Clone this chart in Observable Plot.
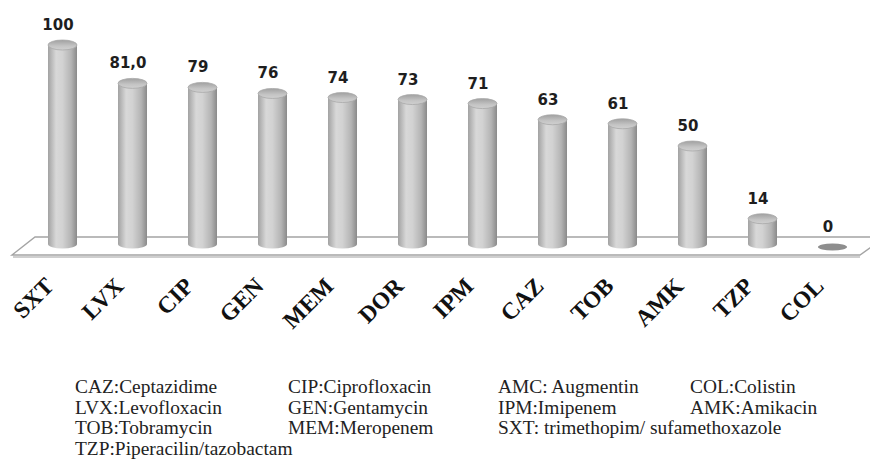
<!DOCTYPE html>
<html><head><meta charset="utf-8">
<script src="https://cdn.jsdelivr.net/npm/d3@7"></script>
<script src="https://cdn.jsdelivr.net/npm/@observablehq/plot@0.6"></script>
<style>
body{margin:0;background:#fff;width:870px;height:463px;overflow:hidden;position:relative;}
#legend{position:absolute;left:0;top:0;width:870px;font-family:'Liberation Serif','DejaVu Serif',serif;font-size:19.4px;color:#222;line-height:20.6px;}
#legend span{position:absolute;white-space:nowrap;font-family:'Liberation Serif','DejaVu Serif',serif;}
</style></head><body>
<div id="chart"></div>
<div id="legend"></div>
<script>
const categories = ["SXT","LVX","CIP","GEN","MEM","DOR","IPM","CAZ","TOB","AMK","TZP","COL"];
const values = [100,81,79,76,74,73,71,63,61,50,14,0];
const valueLabels = ["100","81,0","79","76","74","73","71","63","61","50","14","0"];
const legendRow1 = ["CAZ:Ceptazidime","CIP:Ciprofloxacin","AMC: Augmentin","COL:Colistin"];
const legendRow2 = ["LVX:Levofloxacin","GEN:Gentamycin","IPM:Imipenem","AMK:Amikacin"];
const legendRow3 = ["TOB:Tobramycin","MEM:Meropenem","SXT: trimethopim/ sufamethoxazole"];
const legendRow4 = ["TZP:Piperacilin/tazobactam"];

const data = categories.map((c, i) => ({c, v: values[i], label: valueLabels[i]}));
const RX = 14.45;

const floor = (index, scales, vals, dims) => {
  const y0 = scales.y(0);
  const g = d3.create("svg:g");
  g.append("path")
    .attr("d", `M12,${y0+8}L35,${y0-10}L885,${y0-10}L860,${y0+8}Z`)
    .attr("fill", "#fff").attr("stroke", "#a4a4a4").attr("stroke-width", 1.4);
  g.append("path")
    .attr("d", `M13,${y0+10}L860,${y0+10}`)
    .attr("stroke", "#cfcfcf").attr("stroke-width", 2).attr("fill", "none");
  return g.node();
};

const svg = Plot.plot({
  width: 870,
  height: 360,
  marginLeft: 25,
  marginRight: 0,
  marginTop: 45,
  marginBottom: 113,
  style: {background: "white", overflow: "visible"},
  x: {domain: categories, type: "band", paddingInner: 0.59, paddingOuter: 0.295, axis: null},
  y: {domain: [0, 100], axis: null},
  marks: [
    floor,
    Plot.barY(data, {filter: d => d.v > 0, x: "c", y1: 0, y2: 0, insetTop: -4.5, insetBottom: -4.5, dy: -3, rx: RX, ry: 4.5, fill: "url(#cyl)"}),
    Plot.barY(data, {filter: d => d.v > 0, x: "c", y1: 0, y2: "v", insetBottom: 3, fill: "url(#cyl)"}),
    Plot.barY(data, {filter: d => d.v > 0, x: "c", y1: "v", y2: "v", insetTop: -5, insetBottom: -5, rx: RX, ry: 5, fill: "url(#topg)", stroke: "#a8a8a8", strokeWidth: 0.8}),
    Plot.barY(data, {filter: d => d.v === 0, x: "c", y1: "v", y2: "v", insetTop: -3.5, insetBottom: -3.5, rx: RX, ry: 3.5, fill: "#8e8e8e"}),
    Plot.text(data, {x: "c", y: "v", text: "label", dx: -5, dy: -15.5, lineAnchor: "bottom", fontSize: 15, fontWeight: "bold", fontFamily: "DejaVu Sans", fill: "#1e1e1e"}),
    Plot.text(categories, {x: d => d, frameAnchor: "bottom", dx: -8, dy: 40, rotate: -45, textAnchor: "end", lineAnchor: "bottom", fontSize: 23.5, fontWeight: "bold", fontFamily: "Liberation Serif", fill: "#111"})
  ]
});

const defs = d3.select(svg).insert("defs", ":first-child");
const cyl = defs.append("linearGradient").attr("id", "cyl").attr("x1", "0").attr("x2", "1").attr("y1", "0").attr("y2", "0");
[["0%", "#a2a2a2"], ["28%", "#d8d8d8"], ["50%", "#d2d2d2"], ["80%", "#b4b4b4"], ["100%", "#8a8a8a"]]
  .forEach(([o, c]) => cyl.append("stop").attr("offset", o).attr("stop-color", c));
const topg = defs.append("linearGradient").attr("id", "topg").attr("x1", "0").attr("x2", "0").attr("y1", "0").attr("y2", "1");
[["0%", "#a0a0a0"], ["60%", "#c4c4c4"], ["100%", "#d0d0d0"]]
  .forEach(([o, c]) => topg.append("stop").attr("offset", o).attr("stop-color", c));

document.getElementById("chart").appendChild(svg);

const legend = document.getElementById("legend");
const colX = [75, 288, 498, 690];
const rowTop = [377, 397.6, 418.2, 438.8];
[legendRow1, legendRow2, legendRow3, legendRow4].forEach((row, r) => {
  row.forEach((t, c) => {
    const s = document.createElement("span");
    s.textContent = t;
    s.style.left = colX[c] + "px";
    s.style.top = rowTop[r] + "px";
    s.style.fontFamily = "'Liberation Serif', 'DejaVu Serif', serif";
    legend.appendChild(s);
  });
});
</script>
</body></html>
